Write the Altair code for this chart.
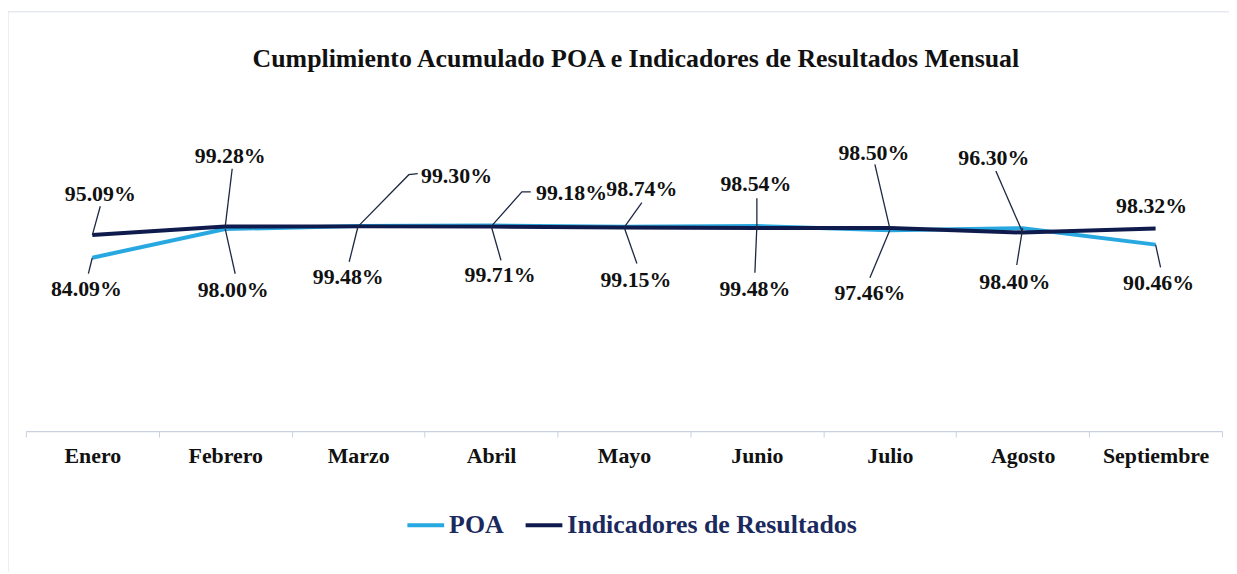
import altair as alt
import pandas as pd

# ---------------- data ----------------
months = ["Enero", "Febrero", "Marzo", "Abril", "Mayo", "Junio", "Julio", "Agosto", "Septiembre"]
poa = [84.09, 98.00, 99.48, 99.71, 99.15, 99.48, 97.46, 98.40, 90.46]
ind = [95.09, 99.28, 99.30, 99.18, 98.74, 98.54, 98.50, 96.30, 98.32]
series_names = ["POA", "Indicadores de Resultados"]
title_text = "Cumplimiento Acumulado POA e Indicadores  de Resultados Mensual"

# ---------------- styling / layout ----------------
colors = ["#27A8E0", "#0F1B4C"]
W, H = 1204, 332
YMAX = 160
PX_X = W / len(months)
PX_Y = H / YMAX
FONT = "Liberation Serif"

# label placement (pixel offsets from each point: dx right, dy down)
ind_text_off = [(8, -41), (5, -71), (99, -51), (81, -34), (18, -39), (-1, -44), (-16, -75), (-29, -75), (-4, -22)]
ind_leader = [[(8, -29)], [(7, -58)], [(51, -52), (60, -53)], [(31, -35), (40, -35)], [(18, -25)],
              [(0, -30)], [(-15, -64)], [(-27, -62)], []]
poa_text_off = [(-6, 32), (8, 61), (-10, 51), (9, 50), (12, 54), (-2, 63), (-20, 63), (-8, 54), (3, 39)]
poa_leader = [[(-4, 16)], [(10, 45)], [(-9, 36)], [(10, 35)], [(13, 37)], [(-2, 47)], [(-20, 48)],
              [(-6, 37)], [(5, 23)]]

# ---------------- tables ----------------
poa_df = pd.DataFrame({"idx": range(len(months)), "serie": series_names[0], "valor": poa})
ind_df = pd.DataFrame({"idx": range(len(months)), "serie": series_names[1], "valor": ind})

label_rows, leader_rows = [], []
for name, vals, toff, lead in [("ind", ind, ind_text_off, ind_leader), ("poa", poa, poa_text_off, poa_leader)]:
    for i, v in enumerate(vals):
        dx, dy = toff[i]
        label_rows.append({"x": i + dx / PX_X, "y": v - dy / PX_Y, "t": f"{v:.2f}%"})
        if lead[i]:
            lid = f"{name}{i}"
            leader_rows.append({"id": lid, "seq": 0, "x": i, "y": v})
            for k, (lx, ly) in enumerate(lead[i]):
                leader_rows.append({"id": lid, "seq": k + 1, "x": i + lx / PX_X, "y": v - ly / PX_Y})
labels_df = pd.DataFrame(label_rows)
leaders_df = pd.DataFrame(leader_rows)
one = pd.DataFrame({"t": [title_text]})

x_scale = alt.Scale(domain=[-0.5, len(months) - 0.5], nice=False, zero=False)
y_scale = alt.Scale(domain=[0, YMAX], nice=False, zero=True)

tick_values = [i * 0.5 - 0.5 for i in range(2 * len(months) + 1)]
month_arr = "[" + ",".join(f"'{m}'" for m in months) + "]"
label_expr = f"datum.value % 1 === 0 ? {month_arr}[datum.value] : ''"

x_axis = alt.Axis(
    values=tick_values, labelExpr=label_expr, title=None, grid=False,
    domainColor="#C8D2DE", domainWidth=1.2, tickColor="#C8D2DE", tickSize=6,
    tickOpacity={"condition": {"test": "datum.value % 1 !== 0", "value": 1}, "value": 0},
    labelFont=FONT, labelFontWeight="bold", labelFontSize=22, labelColor="#111111",
    labelPadding=9, labelOverlap=False, labelFlush=False, labelBound=False,
)
X = lambda f: alt.X(f, scale=x_scale, axis=x_axis)
Y = lambda f: alt.Y(f, scale=y_scale, axis=None)

color_enc = alt.Color(
    "serie:N",
    scale=alt.Scale(domain=series_names, range=colors),
    legend=alt.Legend(
        title=None, orient="none", legendX=382, legendY=406, direction="horizontal",
        symbolType="stroke", symbolSize=1369, symbolStrokeWidth=4,
        labelFont=FONT, labelFontWeight="bold", labelFontSize=26, labelColor="#1B2A5E",
        labelLimit=500, columnPadding=14, labelOffset=3, padding=0,
    ),
)

poa_line = alt.Chart(poa_df).mark_line(strokeWidth=4).encode(
    x=X("idx:Q"), y=Y("valor:Q"), color=color_enc,
)
ind_line = alt.Chart(ind_df).mark_line(strokeWidth=4).encode(
    x=X("idx:Q"), y=Y("valor:Q"), color=color_enc,
)

leaders = alt.Chart(leaders_df).mark_line(strokeWidth=1.3, color="#1C2742").encode(
    x=X("x:Q"), y=Y("y:Q"), detail="id:N", order="seq:Q",
)

labels = alt.Chart(labels_df).mark_text(
    font=FONT, fontWeight="bold", fontSize=22, color="#111111", align="center", baseline="middle"
).encode(x=X("x:Q"), y=Y("y:Q"), text="t:N")

title = alt.Chart(one).mark_text(
    font=FONT, fontWeight="bold", fontSize=26, color="#111111", align="center", baseline="alphabetic"
).encode(x=alt.value(614), y=alt.value(-34), text="t:N")

border_left = alt.Chart(one).mark_rule(color="#D9DEE6", strokeWidth=1).encode(
    x=alt.value(-18), y=alt.value(-90), y2=alt.value(474)
)
border_top = alt.Chart(one).mark_rule(color="#D9DEE6", strokeWidth=1).encode(
    x=alt.value(-18), x2=alt.value(1211), y=alt.value(-90)
)

chart = alt.layer(
    poa_line, ind_line, leaders, labels, title, border_left, border_top
).properties(
    width=W, height=H,
    autosize=alt.AutoSizeParams(type="none"),
    padding={"left": 18, "top": 92, "right": 7, "bottom": 142},
    background="white",
).configure_view(stroke=None)

chart.save("out.html", embed_options={"renderer": "svg", "actions": False})
